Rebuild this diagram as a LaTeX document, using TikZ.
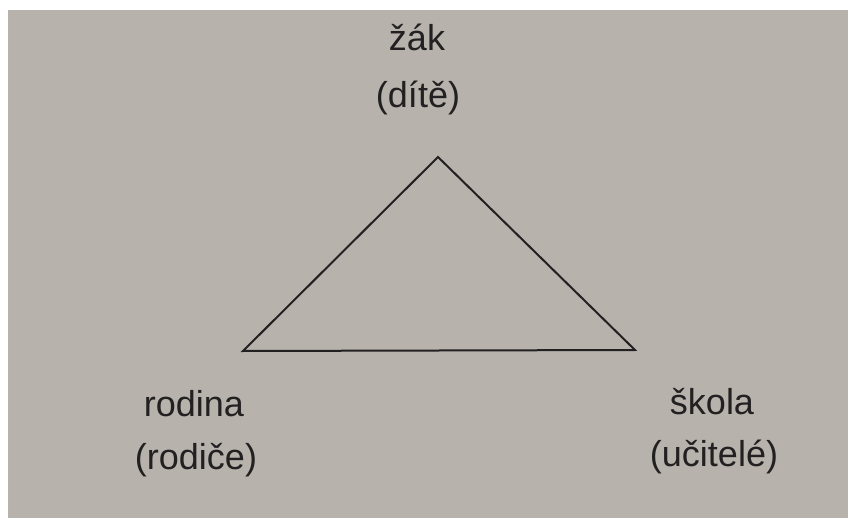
\documentclass[tikz,border=0pt]{standalone}
\usepackage{fontspec}
\setmainfont{Liberation Sans}
\definecolor{paper}{RGB}{184,178,173}
\definecolor{ink}{RGB}{34,32,32}
\begin{document}
\begin{tikzpicture}[x=1pt,y=-1pt,
  lbl/.style={anchor=base,inner sep=0pt,text=ink,font=\fontsize{36}{42}\selectfont},
  tri/.style={draw=ink,line width=2pt,line join=miter}]
\useasboundingbox (0,0) rectangle (848,518);
\fill[white] (0,0) rectangle (848,518);
\fill[paper] (8,10) rectangle (848,518);
\coordinate (top) at (438,157);
\coordinate (left) at (243,351);
\coordinate (right) at (635,350);
\draw[tri] (top) -- (left) -- (right) -- cycle;
\node[lbl] (zak) at (417,51) {žák};
\node[lbl] (dite) at (418,108) {(dítě)};
\node[lbl] (rodina) at (194,416) {rodina};
\node[lbl] (rodice) at (196,469) {(rodiče)};
\node[lbl] (skola) at (712,414) {škola};
\node[lbl] (ucitele) at (714,466) {(učitelé)};
\end{tikzpicture}
\end{document}
